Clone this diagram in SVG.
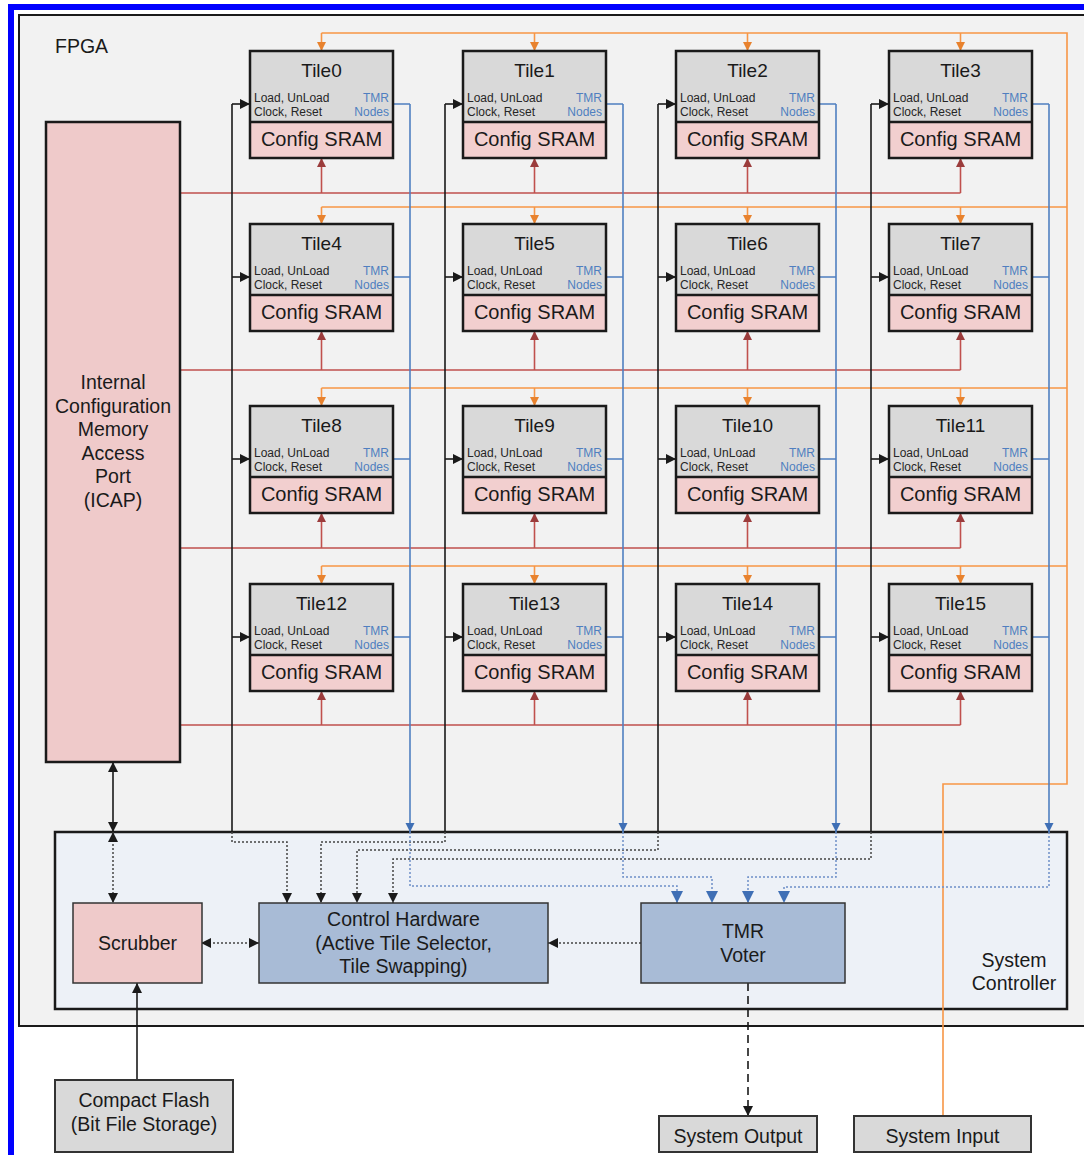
<svg xmlns="http://www.w3.org/2000/svg" width="1084" height="1155" viewBox="0 0 1084 1155">
<defs>
<style>
text{font-family:"Liberation Sans",Arial,sans-serif;fill:#1a1a1a}
.tt{font-size:19px;text-anchor:middle}
.sm{font-size:12px;fill:#262626}
.tmr{font-size:12px;fill:#4f7fc0;text-anchor:end}
.cs{font-size:20px;text-anchor:middle}
.big{font-size:19.5px;text-anchor:middle}
.tg{fill:#d9d9d9;stroke:none}
.tp{fill:#f2cfcf;stroke:none}
.to{fill:none;stroke:#1a1a1a;stroke-width:2.5}
.ln{fill:none;stroke-width:1.6}
.blk{stroke:#1a1a1a}
.org{stroke:#f79646}
.red{stroke:#c0504d}
.blu{stroke:#4f7fc0}
.dotk{fill:none;stroke:#444;stroke-width:1.5;stroke-dasharray:2 2}
.dotb{fill:none;stroke:#6d8fc8;stroke-width:1.5;stroke-dasharray:2 2}
</style>
<marker id="aK" viewBox="0 0 10 10" refX="10" refY="5" markerWidth="10" markerHeight="10" markerUnits="userSpaceOnUse" orient="auto-start-reverse"><path d="M0,0 L10,5 L0,10 z" fill="#1a1a1a"/></marker>
<marker id="aO" viewBox="0 0 10 10" refX="10" refY="5" markerWidth="9" markerHeight="10" markerUnits="userSpaceOnUse" orient="auto"><path d="M0,0 L10,5 L0,10 z" fill="#e8822e"/></marker>
<marker id="aR" viewBox="0 0 10 10" refX="10" refY="5" markerWidth="9" markerHeight="10" markerUnits="userSpaceOnUse" orient="auto"><path d="M0,0 L10,5 L0,10 z" fill="#9b3c3c"/></marker>
<marker id="aB" viewBox="0 0 10 10" refX="10" refY="5" markerWidth="9" markerHeight="10" markerUnits="userSpaceOnUse" orient="auto"><path d="M0,0 L10,5 L0,10 z" fill="#3f6fb5"/></marker>
<marker id="aBb" viewBox="0 0 10 10" refX="10" refY="5" markerWidth="12" markerHeight="12" markerUnits="userSpaceOnUse" orient="auto"><path d="M0,0 L10,5 L0,10 z" fill="#3f6fb5"/></marker>
</defs>

<rect x="11" y="7" width="1100" height="1200" fill="#ffffff" stroke="#0000ff" stroke-width="6"/>
<g id="fpga">
<rect x="19" y="15" width="1080" height="1011" fill="#f2f2f2" stroke="#1a1a1a" stroke-width="2"/>
<text x="55" y="53" style="font-size:19.5px">FPGA</text>
</g>

<g id="system-controller">
<rect x="55" y="832" width="1012" height="177" fill="#edf1f7" stroke="#1a1a1a" stroke-width="2.5"/>
<text x="1014" y="967" class="big">System</text>
<text x="1014" y="990" class="big">Controller</text>
</g>

<g id="connectors">
<!-- orange system input buses -->
<path class="ln org" d="M943,1116 V784 H1067 V33 H321.5"/>
<path class="ln org" d="M321.5,207 H1067 M321.5,388 H1067 M321.5,566 H1067"/>
<g class="ln org" marker-end="url(#aO)">
<path d="M321.5,33 V51"/><path d="M534.5,33 V51"/><path d="M747.5,33 V51"/><path d="M960.5,33 V51"/>
<path d="M321.5,207 V224"/><path d="M534.5,207 V224"/><path d="M747.5,207 V224"/><path d="M960.5,207 V224"/>
<path d="M321.5,388 V406"/><path d="M534.5,388 V406"/><path d="M747.5,388 V406"/><path d="M960.5,388 V406"/>
<path d="M321.5,566 V584"/><path d="M534.5,566 V584"/><path d="M747.5,566 V584"/><path d="M960.5,566 V584"/>
</g>
<!-- red config buses -->
<path class="ln red" d="M180,193 H960.5 M180,370 H960.5 M180,548 H960.5 M180,725 H960.5"/>
<g class="ln red" marker-end="url(#aR)">
<path d="M321.5,193 V158"/><path d="M534.5,193 V158"/><path d="M747.5,193 V158"/><path d="M960.5,193 V158"/>
<path d="M321.5,370 V331"/><path d="M534.5,370 V331"/><path d="M747.5,370 V331"/><path d="M960.5,370 V331"/>
<path d="M321.5,548 V513"/><path d="M534.5,548 V513"/><path d="M747.5,548 V513"/><path d="M960.5,548 V513"/>
<path d="M321.5,725 V691"/><path d="M534.5,725 V691"/><path d="M747.5,725 V691"/><path d="M960.5,725 V691"/>
</g>
<!-- black control lines -->
<path class="ln blk" d="M232,832 V104 M445,832 V104 M658,832 V104 M871,832 V104"/>
<g class="ln blk" marker-end="url(#aK)">
<path d="M232,104 H250"/><path d="M445,104 H463"/><path d="M658,104 H676"/><path d="M871,104 H889"/>
<path d="M232,277 H250"/><path d="M445,277 H463"/><path d="M658,277 H676"/><path d="M871,277 H889"/>
<path d="M232,459 H250"/><path d="M445,459 H463"/><path d="M658,459 H676"/><path d="M871,459 H889"/>
<path d="M232,637 H250"/><path d="M445,637 H463"/><path d="M658,637 H676"/><path d="M871,637 H889"/>
</g>
<!-- blue TMR node lines -->
<path class="ln blu" d="M393,104 H410 M606,104 H623 M819,104 H836 M1032,104 H1049 M393,277 H410 M606,277 H623 M819,277 H836 M1032,277 H1049 M393,459 H410 M606,459 H623 M819,459 H836 M1032,459 H1049 M393,637 H410 M606,637 H623 M819,637 H836 M1032,637 H1049"/>
<g class="ln blu" marker-end="url(#aB)">
<path d="M410,104 V832"/><path d="M623,104 V832"/><path d="M836,104 V832"/><path d="M1049,104 V832"/>
</g>
<!-- dotted inside system controller -->
<g class="dotk" marker-end="url(#aK)">
<path d="M232,832 V842 H287 V903"/>
<path d="M445,832 V842 H321 V903"/>
<path d="M658,832 V850 H357 V903"/>
<path d="M871,832 V859 H393 V903"/>
</g>
<g class="dotb" marker-end="url(#aBb)">
<path d="M410,832 V886 H677 V903"/>
<path d="M623,832 V877 H712 V903"/>
<path d="M836,832 V877 H748 V903"/>
<path d="M1049,832 V887 H784 V903"/>
</g>
<path class="dotk" d="M201,943 H259" marker-start="url(#aK)" marker-end="url(#aK)"/>
<path class="dotk" d="M641,943 H548" marker-end="url(#aK)"/>
<path class="ln blk" d="M113,762 V832" marker-start="url(#aK)" marker-end="url(#aK)"/>
<path class="dotk" d="M113,832 V903" marker-start="url(#aK)" marker-end="url(#aK)"/>
<path class="ln blk" d="M137,1080 V983" marker-end="url(#aK)"/>
<path class="ln blk" d="M748,983 V1116" stroke-dasharray="8 5" marker-end="url(#aK)"/>
</g>

<g id="icap">
<rect x="46" y="122" width="134" height="640" fill="#efcaca" stroke="#1a1a1a" stroke-width="2.5"/>
<text x="113" y="389" class="big">Internal</text>
<text x="113" y="413" class="big">Configuration</text>
<text x="113" y="436" class="big">Memory</text>
<text x="113" y="460" class="big">Access</text>
<text x="113" y="483" class="big">Port</text>
<text x="113" y="507" class="big">(ICAP)</text>
</g>

<g id="tile0"><rect class="tg" x="250" y="51" width="143" height="71"/><rect class="tp" x="250" y="122" width="143" height="36"/><rect class="to" x="250" y="51" width="143" height="107"/><path class="to" d="M250,122 H393"/><text class="tt" x="321.5" y="77">Tile0</text><text class="sm" x="254" y="101.5">Load, UnLoad</text><text class="sm" x="254" y="115.5">Clock, Reset</text><text class="tmr" x="389" y="101.5">TMR</text><text class="tmr" x="389" y="115.5">Nodes</text><text class="cs" x="321.5" y="146">Config SRAM</text></g>
<g id="tile1"><rect class="tg" x="463" y="51" width="143" height="71"/><rect class="tp" x="463" y="122" width="143" height="36"/><rect class="to" x="463" y="51" width="143" height="107"/><path class="to" d="M463,122 H606"/><text class="tt" x="534.5" y="77">Tile1</text><text class="sm" x="467" y="101.5">Load, UnLoad</text><text class="sm" x="467" y="115.5">Clock, Reset</text><text class="tmr" x="602" y="101.5">TMR</text><text class="tmr" x="602" y="115.5">Nodes</text><text class="cs" x="534.5" y="146">Config SRAM</text></g>
<g id="tile2"><rect class="tg" x="676" y="51" width="143" height="71"/><rect class="tp" x="676" y="122" width="143" height="36"/><rect class="to" x="676" y="51" width="143" height="107"/><path class="to" d="M676,122 H819"/><text class="tt" x="747.5" y="77">Tile2</text><text class="sm" x="680" y="101.5">Load, UnLoad</text><text class="sm" x="680" y="115.5">Clock, Reset</text><text class="tmr" x="815" y="101.5">TMR</text><text class="tmr" x="815" y="115.5">Nodes</text><text class="cs" x="747.5" y="146">Config SRAM</text></g>
<g id="tile3"><rect class="tg" x="889" y="51" width="143" height="71"/><rect class="tp" x="889" y="122" width="143" height="36"/><rect class="to" x="889" y="51" width="143" height="107"/><path class="to" d="M889,122 H1032"/><text class="tt" x="960.5" y="77">Tile3</text><text class="sm" x="893" y="101.5">Load, UnLoad</text><text class="sm" x="893" y="115.5">Clock, Reset</text><text class="tmr" x="1028" y="101.5">TMR</text><text class="tmr" x="1028" y="115.5">Nodes</text><text class="cs" x="960.5" y="146">Config SRAM</text></g>

<g id="tile4"><rect class="tg" x="250" y="224" width="143" height="71"/><rect class="tp" x="250" y="295" width="143" height="36"/><rect class="to" x="250" y="224" width="143" height="107"/><path class="to" d="M250,295 H393"/><text class="tt" x="321.5" y="250">Tile4</text><text class="sm" x="254" y="274.5">Load, UnLoad</text><text class="sm" x="254" y="288.5">Clock, Reset</text><text class="tmr" x="389" y="274.5">TMR</text><text class="tmr" x="389" y="288.5">Nodes</text><text class="cs" x="321.5" y="319">Config SRAM</text></g>
<g id="tile5"><rect class="tg" x="463" y="224" width="143" height="71"/><rect class="tp" x="463" y="295" width="143" height="36"/><rect class="to" x="463" y="224" width="143" height="107"/><path class="to" d="M463,295 H606"/><text class="tt" x="534.5" y="250">Tile5</text><text class="sm" x="467" y="274.5">Load, UnLoad</text><text class="sm" x="467" y="288.5">Clock, Reset</text><text class="tmr" x="602" y="274.5">TMR</text><text class="tmr" x="602" y="288.5">Nodes</text><text class="cs" x="534.5" y="319">Config SRAM</text></g>
<g id="tile6"><rect class="tg" x="676" y="224" width="143" height="71"/><rect class="tp" x="676" y="295" width="143" height="36"/><rect class="to" x="676" y="224" width="143" height="107"/><path class="to" d="M676,295 H819"/><text class="tt" x="747.5" y="250">Tile6</text><text class="sm" x="680" y="274.5">Load, UnLoad</text><text class="sm" x="680" y="288.5">Clock, Reset</text><text class="tmr" x="815" y="274.5">TMR</text><text class="tmr" x="815" y="288.5">Nodes</text><text class="cs" x="747.5" y="319">Config SRAM</text></g>
<g id="tile7"><rect class="tg" x="889" y="224" width="143" height="71"/><rect class="tp" x="889" y="295" width="143" height="36"/><rect class="to" x="889" y="224" width="143" height="107"/><path class="to" d="M889,295 H1032"/><text class="tt" x="960.5" y="250">Tile7</text><text class="sm" x="893" y="274.5">Load, UnLoad</text><text class="sm" x="893" y="288.5">Clock, Reset</text><text class="tmr" x="1028" y="274.5">TMR</text><text class="tmr" x="1028" y="288.5">Nodes</text><text class="cs" x="960.5" y="319">Config SRAM</text></g>

<g id="tile8"><rect class="tg" x="250" y="406" width="143" height="71"/><rect class="tp" x="250" y="477" width="143" height="36"/><rect class="to" x="250" y="406" width="143" height="107"/><path class="to" d="M250,477 H393"/><text class="tt" x="321.5" y="432">Tile8</text><text class="sm" x="254" y="456.5">Load, UnLoad</text><text class="sm" x="254" y="470.5">Clock, Reset</text><text class="tmr" x="389" y="456.5">TMR</text><text class="tmr" x="389" y="470.5">Nodes</text><text class="cs" x="321.5" y="501">Config SRAM</text></g>
<g id="tile9"><rect class="tg" x="463" y="406" width="143" height="71"/><rect class="tp" x="463" y="477" width="143" height="36"/><rect class="to" x="463" y="406" width="143" height="107"/><path class="to" d="M463,477 H606"/><text class="tt" x="534.5" y="432">Tile9</text><text class="sm" x="467" y="456.5">Load, UnLoad</text><text class="sm" x="467" y="470.5">Clock, Reset</text><text class="tmr" x="602" y="456.5">TMR</text><text class="tmr" x="602" y="470.5">Nodes</text><text class="cs" x="534.5" y="501">Config SRAM</text></g>
<g id="tile10"><rect class="tg" x="676" y="406" width="143" height="71"/><rect class="tp" x="676" y="477" width="143" height="36"/><rect class="to" x="676" y="406" width="143" height="107"/><path class="to" d="M676,477 H819"/><text class="tt" x="747.5" y="432">Tile10</text><text class="sm" x="680" y="456.5">Load, UnLoad</text><text class="sm" x="680" y="470.5">Clock, Reset</text><text class="tmr" x="815" y="456.5">TMR</text><text class="tmr" x="815" y="470.5">Nodes</text><text class="cs" x="747.5" y="501">Config SRAM</text></g>
<g id="tile11"><rect class="tg" x="889" y="406" width="143" height="71"/><rect class="tp" x="889" y="477" width="143" height="36"/><rect class="to" x="889" y="406" width="143" height="107"/><path class="to" d="M889,477 H1032"/><text class="tt" x="960.5" y="432">Tile11</text><text class="sm" x="893" y="456.5">Load, UnLoad</text><text class="sm" x="893" y="470.5">Clock, Reset</text><text class="tmr" x="1028" y="456.5">TMR</text><text class="tmr" x="1028" y="470.5">Nodes</text><text class="cs" x="960.5" y="501">Config SRAM</text></g>

<g id="tile12"><rect class="tg" x="250" y="584" width="143" height="71"/><rect class="tp" x="250" y="655" width="143" height="36"/><rect class="to" x="250" y="584" width="143" height="107"/><path class="to" d="M250,655 H393"/><text class="tt" x="321.5" y="610">Tile12</text><text class="sm" x="254" y="634.5">Load, UnLoad</text><text class="sm" x="254" y="648.5">Clock, Reset</text><text class="tmr" x="389" y="634.5">TMR</text><text class="tmr" x="389" y="648.5">Nodes</text><text class="cs" x="321.5" y="679">Config SRAM</text></g>
<g id="tile13"><rect class="tg" x="463" y="584" width="143" height="71"/><rect class="tp" x="463" y="655" width="143" height="36"/><rect class="to" x="463" y="584" width="143" height="107"/><path class="to" d="M463,655 H606"/><text class="tt" x="534.5" y="610">Tile13</text><text class="sm" x="467" y="634.5">Load, UnLoad</text><text class="sm" x="467" y="648.5">Clock, Reset</text><text class="tmr" x="602" y="634.5">TMR</text><text class="tmr" x="602" y="648.5">Nodes</text><text class="cs" x="534.5" y="679">Config SRAM</text></g>
<g id="tile14"><rect class="tg" x="676" y="584" width="143" height="71"/><rect class="tp" x="676" y="655" width="143" height="36"/><rect class="to" x="676" y="584" width="143" height="107"/><path class="to" d="M676,655 H819"/><text class="tt" x="747.5" y="610">Tile14</text><text class="sm" x="680" y="634.5">Load, UnLoad</text><text class="sm" x="680" y="648.5">Clock, Reset</text><text class="tmr" x="815" y="634.5">TMR</text><text class="tmr" x="815" y="648.5">Nodes</text><text class="cs" x="747.5" y="679">Config SRAM</text></g>
<g id="tile15"><rect class="tg" x="889" y="584" width="143" height="71"/><rect class="tp" x="889" y="655" width="143" height="36"/><rect class="to" x="889" y="584" width="143" height="107"/><path class="to" d="M889,655 H1032"/><text class="tt" x="960.5" y="610">Tile15</text><text class="sm" x="893" y="634.5">Load, UnLoad</text><text class="sm" x="893" y="648.5">Clock, Reset</text><text class="tmr" x="1028" y="634.5">TMR</text><text class="tmr" x="1028" y="648.5">Nodes</text><text class="cs" x="960.5" y="679">Config SRAM</text></g>

<g id="scrubber">
<rect x="73" y="903" width="129" height="80" fill="#efcaca" stroke="#333" stroke-width="1.5"/>
<text x="137.5" y="950" class="big">Scrubber</text>
</g>
<g id="control-hardware">
<rect x="259" y="903" width="289" height="80" fill="#a8bbd6" stroke="#333" stroke-width="1.5"/>
<text x="403.5" y="926" class="big">Control Hardware</text>
<text x="403.5" y="950" class="big">(Active Tile Selector,</text>
<text x="403.5" y="973" class="big">Tile Swapping)</text>
</g>
<g id="tmr-voter">
<rect x="641" y="903" width="204" height="80" fill="#a8bbd6" stroke="#333" stroke-width="1.5"/>
<text x="743" y="938" class="big">TMR</text>
<text x="743" y="962" class="big">Voter</text>
</g>
<g id="compact-flash">
<rect x="55" y="1080" width="178" height="72" fill="#d9d9d9" stroke="#333" stroke-width="2"/>
<text x="144" y="1107" class="big">Compact Flash</text>
<text x="144" y="1131" class="big">(Bit File Storage)</text>
</g>
<g id="system-output">
<rect x="659" y="1116" width="158" height="36" fill="#d9d9d9" stroke="#333" stroke-width="2"/>
<text x="738" y="1143" class="big">System Output</text>
</g>
<g id="system-input">
<rect x="854" y="1116" width="177" height="36" fill="#d9d9d9" stroke="#333" stroke-width="2"/>
<text x="942.5" y="1143" class="big">System Input</text>
</g>
</svg>
